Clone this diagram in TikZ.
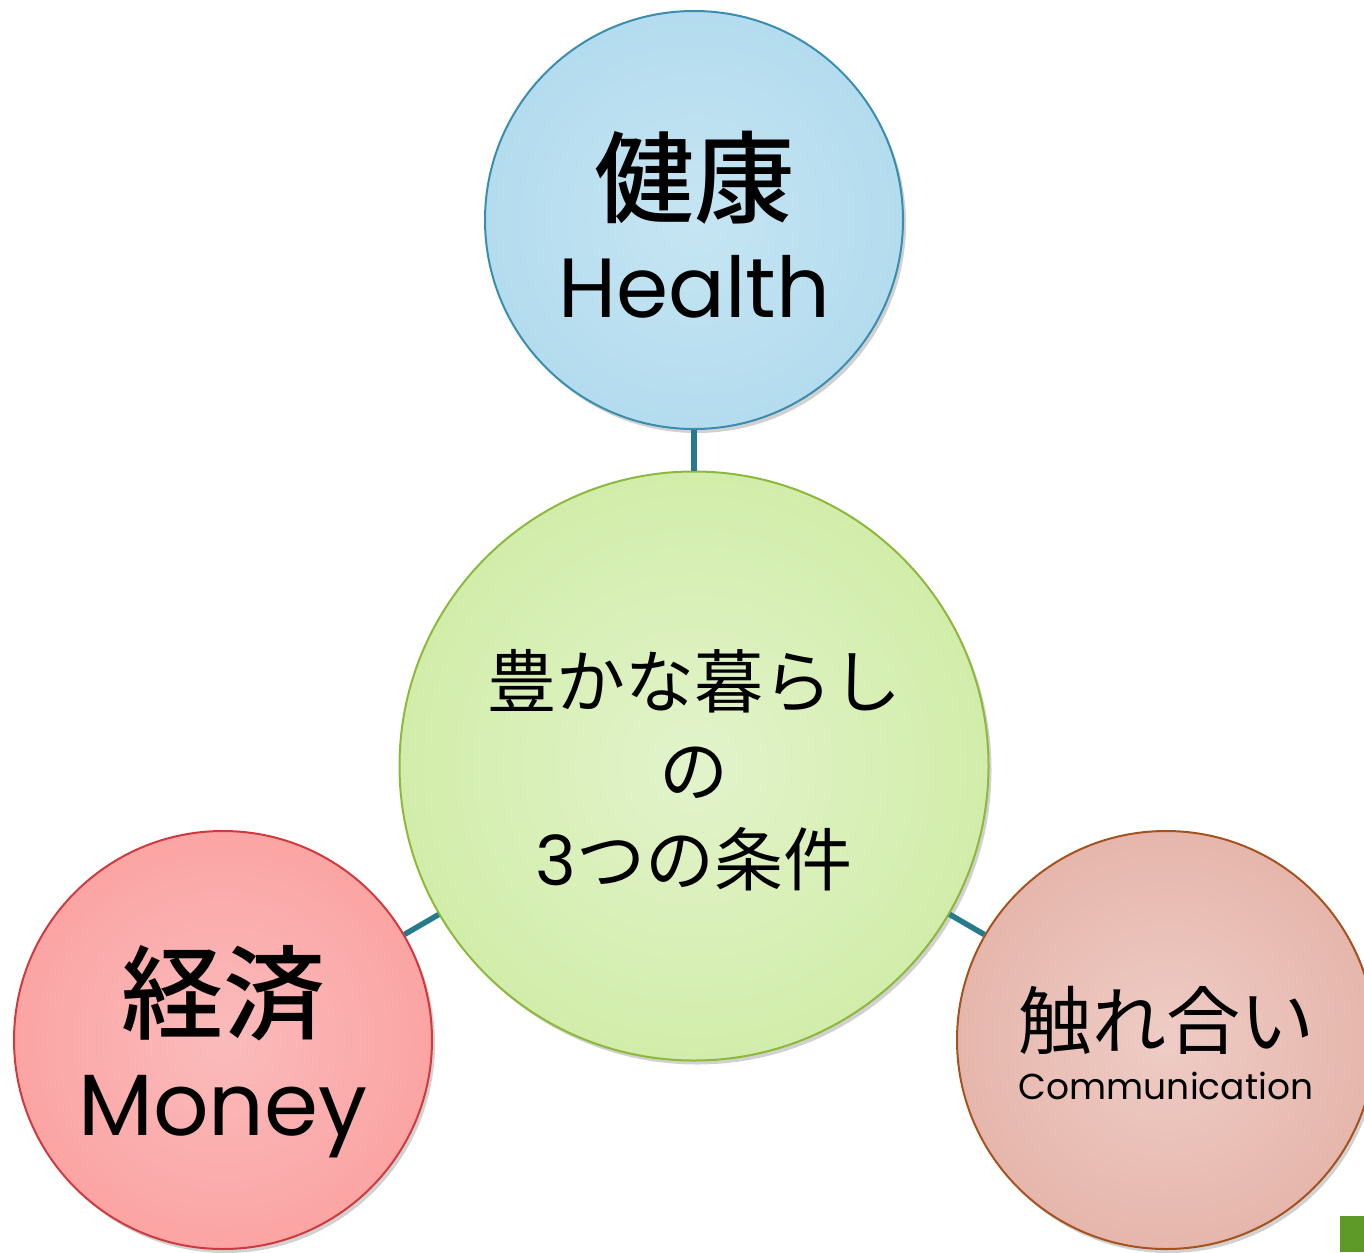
\documentclass[tikz,border=0pt]{standalone}
\usepackage{fontspec}
\setmainfont{Poppins}
\newfontfamily\jp{Noto Sans CJK JP}
\newfontfamily\jpm{Noto Sans CJK JP Medium}
\usetikzlibrary{shadows}
\definecolor{conn}{HTML}{267A8C}
\definecolor{tfill}{HTML}{B3DCEE}\definecolor{tin}{HTML}{C6E5F3}\definecolor{tline}{HTML}{3B8DAE}
\definecolor{cfill}{HTML}{D2EDAA}\definecolor{cin}{HTML}{E2F3CB}\definecolor{cline}{HTML}{8CB83C}
\definecolor{lfill}{HTML}{FBA4A4}\definecolor{lin}{HTML}{FBBBBB}\definecolor{lline}{HTML}{D03A3E}
\definecolor{rfill}{HTML}{E6B6AC}\definecolor{rin}{HTML}{EECCC5}\definecolor{rline}{HTML}{A5531E}
\definecolor{cornergreen}{HTML}{5E9A28}
\tikzset{
  bubble/.style={circle, inner sep=0pt, line width=2pt, shading=radial,
    drop shadow={shadow xshift=3pt, shadow yshift=-4pt, opacity=0.18, fill=black}},
  link/.style={draw=conn, line width=5.5pt},
  lbl/.style={inner sep=0pt, align=center, text=black}
}
\begin{document}
\begin{tikzpicture}[x=1pt,y=-1pt]
\useasboundingbox (0,0) rectangle (1364,1252);
\clip (0,0) rectangle (1364,1252);
\node[bubble, minimum size=418pt, draw=tline, inner color=tin, outer color=tfill] (top) at (694,220) {};
\node[bubble, minimum size=589pt, draw=cline, inner color=cin, outer color=cfill] (mid) at (694,766) {};
\node[bubble, minimum size=418pt, draw=lline, inner color=lin, outer color=lfill] (left) at (223,1040) {};
\node[bubble, minimum size=418pt, draw=rline, inner color=rin, outer color=rfill] (right) at (1166,1040) {};
\draw[link] (mid) -- (top);
\draw[link] (mid) -- (left);
\draw[link] (mid) -- (right);
\node[lbl, font=\jpm\fontsize{100}{100}\selectfont] (tj) at (694,178) {健康};
\node[lbl, font=\fontsize{84}{84}\selectfont] (te) at (694,287) {Health};
\node[lbl, font=\jp\fontsize{69}{89}\selectfont] (cj) at (694,770) {豊かな暮らし\\の\\{\rmfamily 3}つの条件};
\node[lbl, font=\jpm\fontsize{102}{102}\selectfont] (lj) at (223,993) {経済};
\node[lbl, font=\fontsize{87}{87}\selectfont] (le) at (223,1117) {Money};
\node[lbl, font=\jp\fontsize{74}{74}\selectfont] (rj) at (1166,1020) {触れ合い};
\node[lbl, font=\fontsize{36}{36}\selectfont] (re) at (1166,1086) {Communication};
\fill[cornergreen] (1340,1216) rectangle (1364,1252);
\end{tikzpicture}
\end{document}
